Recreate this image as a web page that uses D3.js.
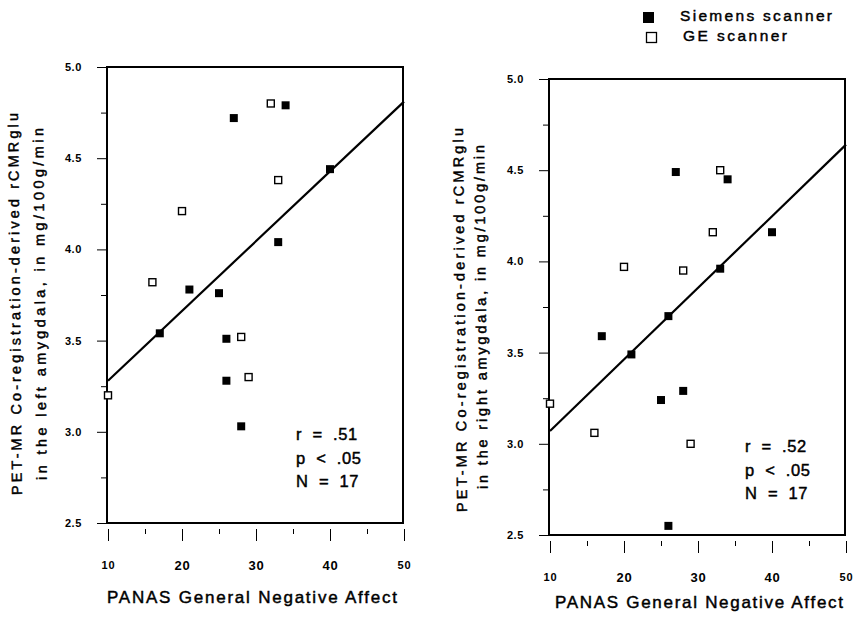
<!DOCTYPE html>
<html lang="en">
<head>
<meta charset="UTF-8">
<title>PANAS vs amygdala rCMRglu</title>
<script src="https://d3js.org/d3.v7.min.js"></script>
<style>
    body { margin: 0; background: #fff; }
    svg { font-family: "Liberation Sans", Arial, sans-serif; }
    .stat { white-space: pre; }
    .heavy { stroke: #000; stroke-width: 0.45px; }
</style>
</head>
<body>
<svg id="chart" width="859" height="621"></svg>
<script>
    // axis ticks
    const xTicks = [10, 20, 30, 40, 50];
    const xMinor = [15, 25, 35, 45];
    const yTicks = [2.5, 3.0, 3.5, 4.0, 4.5, 5.0];
    const yMinor = [2.75, 3.25, 3.75, 4.25, 4.75];

    // left amygdala: [PANAS, rCMRglu]
    const leftSiemens = [[34, 4.79], [27, 4.72], [40, 4.44], [33, 4.04], [21, 3.78],
                         [25, 3.76], [17, 3.54], [26, 3.51], [26, 3.28], [28, 3.03]];
    const leftGE = [[32, 4.80], [33, 4.38], [20, 4.21], [16, 3.82], [28, 3.52], [29, 3.30], [10, 3.20]];
    const leftFit = [[10, 3.28], [50, 4.81]];
    const leftStats = ["r  =  .51", "p  <  .05", "N  =  17"];

    // right amygdala
    const rightSiemens = [[27, 4.49], [34, 4.45], [40, 4.16], [33, 3.96], [26, 3.70],
                          [17, 3.59], [21, 3.49], [25, 3.24], [28, 3.29], [26, 2.55]];
    const rightGE = [[33, 4.50], [32, 4.16], [20, 3.97], [28, 3.95], [10, 3.22], [16, 3.06], [29, 3.00]];
    const rightFit = [[10, 3.07], [50, 4.64]];
    const rightStats = ["r  =  .52", "p  <  .05", "N  =  17"];

    const legendLabels = ["Siemens scanner", "GE scanner"];

    const svg = d3.select("#chart");

    function panel(o) {
        const x = d3.scaleLinear().domain([10, 50]).range([o.x0, o.x1]);
        const y = d3.scaleLinear().domain([2.5, 5.0]).range([o.y1, o.y0]);
        const g = svg.append("g");

        // frame
        g.append("rect")
            .attr("x", o.x0 - 1).attr("y", o.y0)
            .attr("width", o.x1 - o.x0).attr("height", o.y1 - o.y0)
            .attr("fill", "none").attr("stroke", "#000").attr("stroke-width", 2);

        // y axis on the frame
        const yAxis = d3.axisLeft(y).tickValues(yTicks).tickSize(10).tickPadding(15)
            .tickFormat(d3.format(".1f"));
        const ya = g.append("g").attr("transform", `translate(${o.x0 - 1},0)`).call(yAxis);
        ya.select(".domain").remove();
        ya.selectAll("text").attr("font-size", 11).attr("font-weight", "bold").attr("letter-spacing", 0.6);
        g.append("g").attr("transform", `translate(${o.x0 - 1},0)`)
            .call(d3.axisLeft(y).tickValues(yMinor).tickSize(6).tickFormat(""))
            .select(".domain").remove();

        // x axis hanging below the frame
        const xAxis = d3.axisBottom(x).tickValues(xTicks).tickSize(12).tickPadding(20);
        const xa = g.append("g").attr("transform", `translate(0,${o.y1 + 6})`).call(xAxis);
        xa.select(".domain").remove();
        xa.selectAll("text").attr("font-weight", "bold").attr("letter-spacing", 0.8)
            .attr("font-size", d => (d === 10 || d === 50) ? 11 : 13);
        const xm = g.append("g").attr("transform", `translate(0,${o.y1 + 6})`)
            .call(d3.axisBottom(x).tickValues(xMinor).tickSize(5).tickFormat(""));
        xm.select(".domain").remove();

        // regression line
        g.append("line")
            .attr("x1", x(o.fit[0][0])).attr("y1", y(o.fit[0][1]))
            .attr("x2", x(o.fit[1][0])).attr("y2", y(o.fit[1][1]))
            .attr("stroke", "#000").attr("stroke-width", 2.2);

        // points
        const s = 8;
        g.selectAll(".sie").data(o.siemens).join("rect")
            .attr("x", d => x(d[0]) - s / 2).attr("y", d => y(d[1]) - s / 2)
            .attr("width", s).attr("height", s).attr("fill", "#000");
        g.selectAll(".ge").data(o.ge).join("rect")
            .attr("x", d => x(d[0]) - s / 2 + 0.5).attr("y", d => y(d[1]) - s / 2 + 0.5)
            .attr("width", s - 1).attr("height", s - 1)
            .attr("fill", "#fff").attr("stroke", "#000").attr("stroke-width", 1.4);

        // stats
        g.selectAll(".stat").data(o.stats).join("text")
            .attr("class", "stat heavy")
            .attr("x", o.statX).attr("y", (d, i) => o.statY + i * 23.5)
            .attr("font-size", 16.5).attr("letter-spacing", 0.6)
            .text(d => d);

        // x title
        g.append("text")
            .attr("class", "heavy")
            .attr("x", o.xTitleC).attr("y", o.xTitleY)
            .attr("text-anchor", "middle").attr("font-size", 17)
            .attr("textLength", o.xTitleLen).attr("lengthAdjust", "spacing")
            .text("PANAS General Negative Affect");

        // y title, two lines (the scan is turned a little)
        o.yTitle.forEach((t, i) => {
            g.append("text")
                .attr("class", "heavy")
                .attr("transform", `translate(${o.yTitleX[i]},${o.yTitleC[i]}) rotate(-90.6)`)
                .attr("text-anchor", "middle").attr("font-size", 14.5)
                .attr("textLength", o.yTitleLen[i]).attr("lengthAdjust", "spacing")
                .text(t);
        });
    }

    panel({
        x0: 108, x1: 404, y0: 67, y1: 523,
        siemens: leftSiemens, ge: leftGE, fit: leftFit, stats: leftStats,
        statX: 296, statY: 440,
        xTitleC: 252, xTitleY: 603, xTitleLen: 290,
        yTitle: ["PET-MR Co-registration-derived rCMRglu", "in the left amygdala, in mg/100g/min"],
        yTitleX: [20, 45], yTitleC: [304, 304], yTitleLen: [382, 352]
    });

    panel({
        x0: 550, x1: 846, y0: 79, y1: 535,
        siemens: rightSiemens, ge: rightGE, fit: rightFit, stats: rightStats,
        statX: 745, statY: 452,
        xTitleC: 699, xTitleY: 608, xTitleLen: 288,
        yTitle: ["PET-MR Co-registration-derived rCMRglu", "in the right amygdala, in mg/100g/min"],
        yTitleX: [465, 486], yTitleC: [320, 317], yTitleLen: [384, 344]
    });

    // legend
    const legend = svg.append("g");
    legend.append("rect").attr("x", 643).attr("y", 12).attr("width", 11).attr("height", 11).attr("fill", "#000");
    legend.append("rect").attr("x", 646.5).attr("y", 32.5).attr("width", 10).attr("height", 10)
        .attr("fill", "#fff").attr("stroke", "#000").attr("stroke-width", 1.3);
    legend.selectAll(".lab").data(legendLabels).join("text")
        .attr("class", "heavy")
        .attr("x", (d, i) => i === 0 ? 680 : 683)
        .attr("y", (d, i) => 21 + i * 20)
        .attr("font-size", 15.5)
        .attr("textLength", (d, i) => i === 0 ? 152 : 104).attr("lengthAdjust", "spacing")
        .text(d => d);
</script>
</body>
</html>
